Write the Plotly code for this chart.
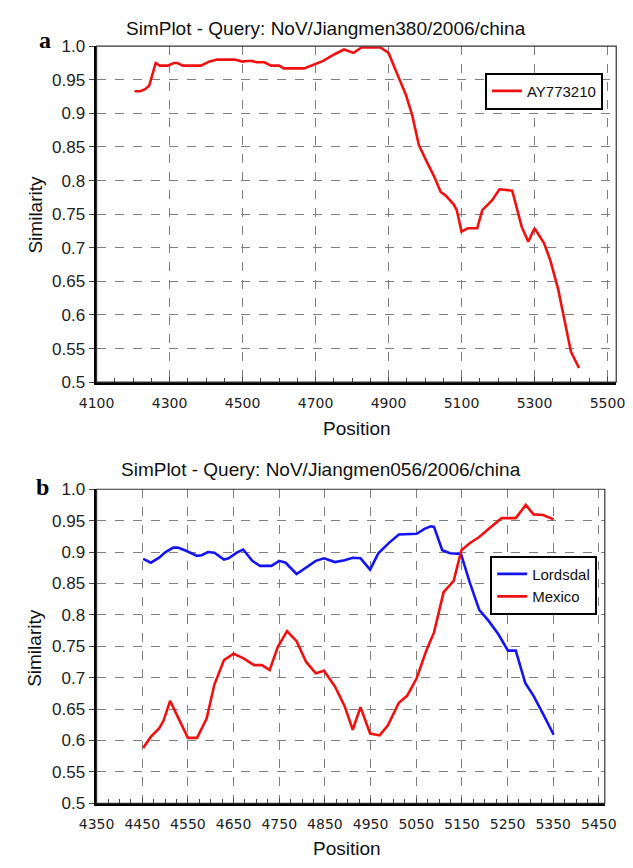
import plotly.graph_objects as go

W, H = 633, 868

# ---------------- Panel a data ----------------
pos_a = [4204, 4220, 4233, 4244, 4262, 4273, 4295, 4312, 4321, 4337,
         4386, 4408, 4430, 4478, 4500, 4512, 4526, 4539, 4560, 4578,
         4600, 4613, 4669, 4695, 4721, 4752, 4778, 4804, 4826, 4878,
         4900, 4922, 4948, 4965, 4983, 5004, 5026, 5043, 5056, 5078,
         5087, 5100, 5117, 5143, 5157, 5183, 5204, 5239, 5252, 5265,
         5283, 5300, 5326, 5343, 5365, 5387, 5400, 5422]
sim_ay773210 = [0.933, 0.933, 0.936, 0.941, 0.975, 0.971, 0.971, 0.975, 0.975, 0.971,
                0.971, 0.977, 0.980, 0.980, 0.977, 0.978, 0.978, 0.976, 0.976, 0.971,
                0.971, 0.967, 0.967, 0.973, 0.978, 0.988, 0.995, 0.990, 0.998, 0.998,
                0.990, 0.961, 0.927, 0.897, 0.853, 0.829, 0.805, 0.783, 0.778, 0.765,
                0.756, 0.724, 0.729, 0.729, 0.756, 0.770, 0.787, 0.785, 0.756, 0.731,
                0.709, 0.729, 0.707, 0.682, 0.638, 0.577, 0.545, 0.521]

# ---------------- Panel b data ----------------
pos_lordsdal = [4452, 4469, 4487, 4501, 4518, 4528, 4546, 4570, 4580, 4594,
                4608, 4629, 4639, 4657, 4671, 4691, 4708, 4733, 4750, 4764,
                4788, 4809, 4830, 4848, 4872, 4893, 4911, 4928, 4949, 4967,
                4991, 5012, 5051, 5068, 5082, 5089, 5107, 5124, 5148, 5167,
                5188, 5209, 5230, 5251, 5268, 5289, 5307, 5328, 5351]
sim_lordsdal = [0.889, 0.883, 0.891, 0.900, 0.907, 0.907, 0.902, 0.894, 0.895, 0.900,
                0.899, 0.888, 0.890, 0.899, 0.904, 0.886, 0.878, 0.878, 0.886, 0.883,
                0.865, 0.876, 0.886, 0.890, 0.884, 0.887, 0.891, 0.890, 0.872, 0.898,
                0.915, 0.928, 0.929, 0.937, 0.941, 0.940, 0.903, 0.898, 0.897, 0.852,
                0.808, 0.790, 0.769, 0.743, 0.743, 0.691, 0.671, 0.642, 0.609]

pos_mexico = [4452, 4469, 4487, 4497, 4511, 4528, 4550, 4570, 4591, 4608,
              4629, 4650, 4671, 4695, 4712, 4729, 4747, 4767, 4788, 4809,
              4830, 4848, 4872, 4893, 4911, 4928, 4949, 4970, 4988, 5012,
              5030, 5051, 5072, 5089, 5110, 5132, 5149, 5167, 5188, 5209,
              5237, 5268, 5290, 5307, 5328, 5351]
sim_mexico = [0.588, 0.606, 0.619, 0.632, 0.663, 0.637, 0.604, 0.604, 0.635, 0.689,
              0.728, 0.738, 0.731, 0.720, 0.720, 0.712, 0.749, 0.774, 0.758, 0.725,
              0.707, 0.711, 0.686, 0.655, 0.617, 0.653, 0.611, 0.608, 0.624, 0.660,
              0.671, 0.699, 0.743, 0.772, 0.836, 0.854, 0.903, 0.914, 0.924, 0.937,
              0.954, 0.954, 0.975, 0.960, 0.959, 0.952]

xticks_a = [4100, 4300, 4500, 4700, 4900, 5100, 5300, 5500]
xticks_b = [4350, 4450, 4550, 4650, 4750, 4850, 4950, 5050, 5150, 5250, 5350, 5450]
yticks = [0.5, 0.55, 0.6, 0.65, 0.7, 0.75, 0.8, 0.85, 0.9, 0.95, 1.0]
ytick_text = ["0.5", "0.55", "0.6", "0.65", "0.7", "0.75", "0.8", "0.85", "0.9", "0.95", "1.0"]

title_a = "SimPlot - Query: NoV/Jiangmen380/2006/china"
title_b = "SimPlot - Query: NoV/Jiangmen056/2006/china"

RED = "#f01010"
BLUE = "#1414f0"

fig = go.Figure()
fig.add_trace(go.Scatter(x=pos_a, y=sim_ay773210, mode="lines", name="AY773210",
                         line=dict(color=RED, width=2.6), xaxis="x", yaxis="y",
                         legend="legend"))
fig.add_trace(go.Scatter(x=pos_lordsdal, y=sim_lordsdal, mode="lines", name="Lordsdal",
                         line=dict(color=BLUE, width=2.6), xaxis="x2", yaxis="y2",
                         legend="legend2"))
fig.add_trace(go.Scatter(x=pos_mexico, y=sim_mexico, mode="lines", name="Mexico",
                         line=dict(color=RED, width=2.6), xaxis="x2", yaxis="y2",
                         legend="legend2"))


def px_x(p):
    return p / W


def px_y(p):
    return 1 - p / H


TICKFONT_X = dict(family="DejaVu Sans", size=14, color="#222")
TICKFONT_Y = dict(family="Liberation Sans", size=17, color="#222")
GRID = dict(showgrid=True, gridcolor="#7f7f7f", griddash="dash", gridwidth=1)


def xaxis_cfg(dom, rng, ticks, minor_dt):
    return dict(domain=dom, range=rng, tickvals=ticks, ticktext=[str(t) for t in ticks],
                tickfont=TICKFONT_X, showline=True, linecolor="black", linewidth=3,
                ticks="inside", ticklen=5, tickcolor="#444", zeroline=False,
                ticklabelstandoff=6,
                minor=dict(dtick=minor_dt, ticks="inside", ticklen=4, tickcolor="#444",
                           showgrid=False),
                **GRID)


def yaxis_cfg(dom, anchor):
    return dict(domain=dom, range=[0.5, 1.0], tickvals=yticks, ticktext=ytick_text,
                tickfont=TICKFONT_Y, showline=True, linecolor="black", linewidth=3,
                ticks="outside", ticklen=5, tickcolor="#444", zeroline=False,
                anchor=anchor, **GRID)


LEG = dict(bordercolor="black", borderwidth=2, bgcolor="white",
           font=dict(family="Liberation Sans", size=15, color="#111"),
           itemwidth=30, tracegroupgap=0, xanchor="right", yanchor="middle")

fig.update_layout(
    width=W, height=H,
    margin=dict(l=0, r=0, t=0, b=0),
    paper_bgcolor="white", plot_bgcolor="white",
    xaxis=xaxis_cfg([px_x(82.5), px_x(628)], [4100, 5524], xticks_a, 50) | dict(anchor="y"),
    yaxis=yaxis_cfg([px_y(381.5), px_y(38)], "x"),
    xaxis2=xaxis_cfg([px_x(82.5), px_x(616)], [4350, 5463], xticks_b, 25) | dict(anchor="y2"),
    yaxis2=yaxis_cfg([px_y(812), px_y(491)], "x2"),
    legend=dict(x=px_x(614), y=px_y(84), **LEG),
    legend2=dict(x=px_x(608), y=px_y(589), **LEG),
    showlegend=True,
)

# thin frame (top/right border)
for xr, yr in (("x domain", "y domain"), ("x2 domain", "y2 domain")):
    fig.add_shape(type="rect", xref=xr, yref=yr, x0=0, x1=1, y0=0, y1=1,
                  line=dict(color="#333", width=1.2), layer="above")

ann_font = dict(family="Liberation Sans", size=19, color="#111")
lab_font = dict(family="Liberation Serif", size=24, color="black")
annos = [
    dict(text=title_a, x=px_x(323), y=px_y(20), font=ann_font),
    dict(text=title_b, x=px_x(318), y=px_y(471), font=ann_font),
    dict(text="<b>a</b>", x=px_x(28), y=px_y(32), font=lab_font),
    dict(text="<b>b</b>", x=px_x(26), y=px_y(489), font=lab_font),
    dict(text="Position", x=px_x(356), y=px_y(429), font=ann_font),
    dict(text="Position", x=px_x(345), y=px_y(858), font=ann_font),
    dict(text="Similarity", x=px_x(18), y=px_y(210), font=ann_font, textangle=-90),
    dict(text="Similarity", x=px_x(18), y=px_y(653), font=ann_font, textangle=-90),
]
for a in annos:
    fig.add_annotation(xref="paper", yref="paper", showarrow=False,
                       xanchor="center", yanchor="middle", **a)

fig.write_html("out.html")
